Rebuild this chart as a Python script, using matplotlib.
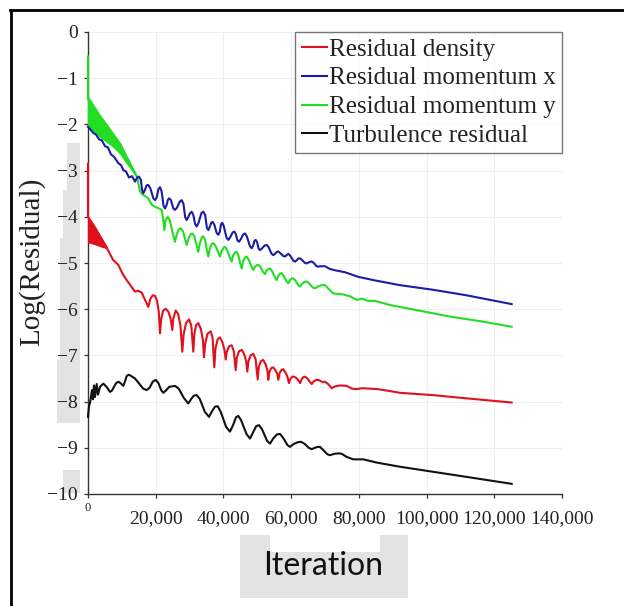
import numpy as np
import matplotlib
matplotlib.use("Agg")
import matplotlib.pyplot as plt
from matplotlib.patches import Polygon
from matplotlib.lines import Line2D

W, H = 624, 606

# ---- data ----
x_ticks = [0, 20000, 40000, 60000, 80000, 100000, 120000, 140000]
x_labels = ["0", "20,000", "40,000", "60,000", "80,000", "100,000", "120,000", "140,000"]
y_ticks = [0, -1, -2, -3, -4, -5, -6, -7, -8, -9, -10]
y_labels = ["0", "\u22121", "\u22122", "\u22123", "\u22124", "\u22125", "\u22126",
            "\u22127", "\u22128", "\u22129", "\u221210"]

series_names = ["Residual density", "Residual momentum x", "Residual momentum y",
                "Turbulence residual"]

# early high-frequency bands (envelopes)
density_band_x = [0, 1480, 2660, 4140, 5610]
density_band_hi = [-4.00, -4.15, -4.29, -4.48, -4.66]
density_band_lo = [-4.55, -4.58, -4.61, -4.65, -4.68]

momy_band_x = [0, 3540, 7380, 9450, 11520, 13290, 14470]
momy_band_hi = [-1.40, -1.80, -2.19, -2.40, -2.70, -2.95, -3.13]
momy_band_lo = [-2.05, -2.27, -2.48, -2.63, -2.85, -3.02, -3.15]

density_x = [0, 0, 5610, 7380, 8950, 10340, 11430, 12700, 13900, 14770, 15860, 16540,
             17810, 18400, 19100, 19790, 20400, 20900, 21270, 21600, 22200, 22950,
             23700, 24400, 24900, 25200, 25900, 26600, 27300, 27850, 28250, 28950,
             29830, 30500, 31100, 31400, 31900, 32580, 33300, 33900, 34260, 34600,
             35300, 36240, 36800, 37300, 37650, 38300, 38990, 39700, 40300, 40670,
             41000, 41700, 42440, 43100, 43620, 43950, 44600, 45400, 46100, 46700,
             47050, 47400, 48100, 48820, 49500, 50120, 50450, 51100, 51780, 52500,
             53000, 53250, 53600, 54200, 54730, 55400, 55900, 56210, 56600, 57200,
             57680, 58400, 58900, 59370, 59800, 60400, 60930, 61700, 62200, 62620,
             63100, 63600, 64090, 64800, 65500, 66070, 66700, 67400, 68020, 68800,
             69500, 70000, 70900, 71980, 73000, 74500, 76410, 78000, 79360, 81000,
             83290, 85500, 88220, 92150, 101900, 111850, 125140]
density_y = [-2.85, -4.00, -4.68, -4.93, -5.04, -5.25, -5.37, -5.50, -5.62, -5.60, -5.64,
             -5.75, -5.95, -5.78, -5.70, -5.71, -5.82, -6.05, -6.52, -6.22, -6.03, -5.99,
             -6.05, -6.20, -6.45, -6.20, -6.03, -6.10, -6.35, -6.92, -6.55, -6.30,
             -6.22, -6.35, -6.92, -6.55, -6.35, -6.30, -6.42, -6.65, -7.04, -6.75,
             -6.53, -6.48, -6.62, -7.26, -6.85, -6.65, -6.61, -6.72, -6.88, -7.09,
             -6.92, -6.80, -6.78, -6.92, -7.32, -7.05, -6.91, -6.88, -6.97, -7.12,
             -7.35, -7.12, -6.99, -6.97, -7.08, -7.52, -7.25, -7.12, -7.10, -7.20,
             -7.33, -7.53, -7.35, -7.27, -7.26, -7.33, -7.40, -7.53, -7.38, -7.31,
             -7.30, -7.38, -7.46, -7.60, -7.50, -7.46, -7.46, -7.50, -7.55, -7.60,
             -7.52, -7.47, -7.46, -7.50, -7.57, -7.62, -7.56, -7.53, -7.53, -7.56,
             -7.58, -7.57, -7.62, -7.71, -7.67, -7.65, -7.66, -7.72, -7.73, -7.71,
             -7.72, -7.73, -7.76, -7.81, -7.86, -7.93, -8.02]

momx_x = [0, 590, 1480, 2360, 3250, 4140, 5020, 5910, 6790, 7680, 8950, 9750, 10430,
          11220, 12110, 13000, 13880,
          14500, 15060, 15600, 16000, 16330, 16750, 17300, 17810, 18400, 19300, 19790,
          20300, 20800, 21270, 21750, 22300, 22740, 23200, 23600, 24010, 24500, 25200,
          25700, 26300, 27100, 27670, 28200, 28700, 29150, 29650, 30150, 30630, 31100,
          31650, 32110, 32600, 33500, 34060, 34600, 35100, 35530, 35950, 36400, 36830,
          37300, 38000, 38490, 38900, 39300, 39670, 40100, 40900, 41440, 41950, 42700,
          43210, 43650, 44150, 44600, 45100, 45850, 46370, 46900, 47850, 48350, 48800,
          49150, 49530, 49950, 50400, 50800, 51300, 52200, 52780, 53300, 54200, 54730,
          55250, 55750, 56210, 56700, 57700, 58190, 58650, 59160, 59700, 60650, 61140,
          61650, 62150, 62620, 63150, 64100, 64590, 65100, 65700, 66160, 66700, 67500,
          68020, 68600, 70000, 71200, 72450, 75910, 79830, 84270, 92150, 101990,
          111850, 125140]
momx_y = [-2.05, -2.10, -2.18, -2.22, -2.32, -2.35, -2.47, -2.50, -2.65, -2.70, -2.84,
          -2.88, -2.99, -3.02, -3.15, -3.12, -3.24,
          -3.15, -3.13, -3.20, -3.42, -3.49, -3.43, -3.32, -3.31, -3.38, -3.60, -3.64,
          -3.58, -3.40, -3.36, -3.45, -3.76, -3.82, -3.75, -3.63, -3.60, -3.64, -3.82,
          -3.85, -3.80, -3.67, -3.64, -3.72, -4.01, -4.07, -4.00, -3.92, -3.89, -3.96,
          -4.16, -4.21, -4.14, -3.92, -3.89, -3.96, -4.23, -4.29, -4.22, -4.13, -4.11,
          -4.17, -4.35, -4.39, -4.33, -4.16, -4.13, -4.20, -4.45, -4.50, -4.45, -4.34,
          -4.32, -4.37, -4.51, -4.54, -4.49, -4.38, -4.36, -4.42, -4.64, -4.68, -4.62,
          -4.52, -4.50, -4.55, -4.69, -4.72, -4.69, -4.62, -4.61, -4.65, -4.80, -4.83,
          -4.80, -4.76, -4.75, -4.78, -4.85, -4.86, -4.83, -4.80, -4.84, -4.95, -4.97,
          -4.94, -4.90, -4.90, -4.93, -5.00, -5.01, -4.99, -4.97, -4.97, -5.00, -5.07,
          -5.08, -5.07, -5.07, -5.12, -5.15, -5.20, -5.30, -5.37, -5.48, -5.58,
          -5.70, -5.89]

momy_x = [0, 0, 14470, 15360, 16100, 16840, 17810, 18810, 19500, 20290, 21000, 21770,
          22200, 22540, 22900, 23540, 24200, 25100, 25700, 26200, 26800, 27470, 28100,
          28700, 29150, 29700, 30300, 30810, 31400, 32100, 32580, 33000, 33600, 34060,
          34600, 35100, 35530, 35950, 36500, 37010, 37600, 38400, 38990, 39500, 40000,
          40460, 41000, 41900, 42440, 42900, 43450, 43920, 44450, 45000, 45400, 45850,
          46400, 46870, 47500, 48300, 48820, 49300, 49800, 50300, 50900, 51700, 52280,
          52800, 53300, 53760, 54400, 55200, 55740, 56200, 56700, 57210, 57800, 58600,
          59160, 59650, 60150, 60640, 61300, 62100, 62620, 63200, 63900, 64590, 65400,
          66400, 67050, 67900, 68900, 70000, 71200, 72450, 75320, 77380, 79450, 80930,
          82700, 84770, 89200, 97080, 106920, 116760, 125140]
momy_y = [-0.53, -1.45, -3.13, -3.45, -3.52, -3.55, -3.60, -3.74, -3.77, -3.80, -3.82,
          -3.85, -4.05, -4.29, -4.08, -4.00, -4.08, -4.38, -4.54, -4.38, -4.27, -4.25,
          -4.32, -4.50, -4.61, -4.47, -4.38, -4.36, -4.42, -4.62, -4.76, -4.58, -4.45,
          -4.42, -4.50, -4.72, -4.86, -4.70, -4.59, -4.57, -4.62, -4.76, -4.86, -4.74,
          -4.67, -4.65, -4.71, -4.88, -4.97, -4.83, -4.77, -4.76, -4.84, -5.02, -5.12,
          -4.96, -4.88, -4.86, -4.93, -5.08, -5.15, -5.08, -5.05, -5.04, -5.08, -5.19,
          -5.24, -5.16, -5.13, -5.12, -5.18, -5.31, -5.37, -5.28, -5.23, -5.22, -5.28,
          -5.39, -5.44, -5.37, -5.34, -5.33, -5.38, -5.48, -5.51, -5.45, -5.41, -5.40,
          -5.45, -5.53, -5.55, -5.51, -5.48, -5.48, -5.57, -5.66, -5.68, -5.72, -5.80,
          -5.77, -5.82, -5.82, -5.91, -6.02, -6.16, -6.27, -6.38]

turb_x = [0, 295, 590, 1180, 1480, 1770, 2070, 2570, 2950, 3540, 4520, 5460, 6500,
          7100, 7680, 8300, 8950, 9600, 10430, 11000, 11400, 11900, 12400, 13880, 15000,
          16300, 17340, 18200, 19100, 20000, 20800, 21600, 22240, 23000, 24000, 25700,
          26800, 28300, 29620, 30500, 31300, 32110, 33000, 34500, 35740, 36700, 37500,
          38310, 39200, 40800, 41940, 42900, 43700, 44390, 45200, 46800, 47850, 48800,
          49700, 50510, 51400, 52900, 53760, 54700, 55800, 56710, 57600, 58900, 59660,
          60700, 61900, 62910, 63900, 65200, 66070, 67000, 67800, 68520, 69500, 70700,
          71480, 72800, 74000, 74930, 76500, 78360, 81310, 85270, 92150, 101990,
          111850, 125140]
turb_y = [-8.33, -8.10, -8.03, -7.75, -7.95, -7.65, -7.90, -7.62, -7.85, -7.68, -7.61,
          -7.68, -7.79, -7.76, -7.68, -7.60, -7.57, -7.60, -7.66, -7.55, -7.45, -7.42,
          -7.43, -7.50, -7.60, -7.72, -7.75, -7.70, -7.57, -7.53, -7.60, -7.75, -7.81,
          -7.76, -7.68, -7.66, -7.72, -7.92, -8.04, -7.94, -7.87, -7.86, -7.94, -8.22,
          -8.33, -8.20, -8.11, -8.10, -8.22, -8.55, -8.65, -8.50, -8.34, -8.31, -8.40,
          -8.70, -8.80, -8.66, -8.53, -8.51, -8.60, -8.85, -8.91, -8.80, -8.71, -8.70,
          -8.78, -8.94, -8.98, -8.92, -8.88, -8.87, -8.91, -9.00, -9.03, -9.00, -8.98,
          -8.98, -9.05, -9.14, -9.16, -9.13, -9.12, -9.13, -9.20, -9.25, -9.25, -9.32,
          -9.41, -9.52, -9.63, -9.78]

colors = ["#e0101c", "#1c1ca6", "#22dd22", "#111111"]

serif = "Liberation Serif"


def fx(px):
    return px / W


def fy(py):
    return 1 - py / H


fig = plt.figure(figsize=(W / 100, H / 100), dpi=100)
fig.patch.set_facecolor("white")

# grey backdrop patches behind the axis titles
ylab_bg = [(67, 143), (80, 143), (80, 423), (57, 423), (57, 360), (60, 360),
           (60, 238), (63, 238), (63, 190), (67, 190)]
ylab_bg2 = [(63, 470), (80, 470), (80, 493), (63, 493)]
xlab_bg = [(240, 535), (270, 535), (270, 552), (380, 552), (380, 535), (408, 535),
           (408, 598), (240, 598)]
for pts in (ylab_bg, ylab_bg2, xlab_bg):
    fig.patches.append(Polygon([(fx(a), fy(b)) for a, b in pts], closed=True,
                               transform=fig.transFigure, facecolor="#e3e3e3",
                               edgecolor="none", zorder=-5))

# frame around the picture (left and top edges visible)
fig.add_artist(Line2D([fx(11.3), fx(11.3)], [fy(9.7), 0], color="black", lw=2.0,
                      transform=fig.transFigure))
fig.add_artist(Line2D([fx(10.3), 1], [fy(9.7), fy(9.7)], color="black", lw=2.0,
                      transform=fig.transFigure))

ax = fig.add_axes([fx(88), fy(494), (562 - 88) / W, (494 - 32) / H])
ax.set_xlim(0, 140000)
ax.set_ylim(-10, 0)

ax.fill_between(momy_band_x, momy_band_lo, momy_band_hi, color=colors[2], lw=0.8,
                zorder=3, clip_on=False)
ax.fill_between(density_band_x, density_band_lo, density_band_hi, color=colors[0],
                lw=0.8, zorder=3, clip_on=False)

kw = dict(lw=1.5, zorder=3, clip_on=False, solid_joinstyle="round")
l_dens, = ax.plot(density_x, density_y, color=colors[0], **kw)
l_momy, = ax.plot(momy_x, momy_y, color=colors[2], **kw)
l_momx, = ax.plot(momx_x, momx_y, color=colors[1], **kw)
l_turb, = ax.plot(turb_x, turb_y, color=colors[3], **kw)

ax.set_xticks(x_ticks)
ax.set_xticklabels([""] + x_labels[1:])
ax.set_yticks(y_ticks)
ax.set_yticklabels(y_labels)
ax.grid(True, color="#eeeeee", lw=0.8)
ax.set_axisbelow(True)
for s in ("top", "right"):
    ax.spines[s].set_visible(False)
for s in ("left", "bottom"):
    ax.spines[s].set_color("#333333")
    ax.spines[s].set_linewidth(1.0)
ax.tick_params(axis="both", direction="out", length=3, width=0.9, color="#333333",
               labelcolor="#222222")
ax.tick_params(axis="x", pad=8.5)
ax.tick_params(axis="y", pad=4.5)
for t in ax.get_xticklabels() + ax.get_yticklabels():
    t.set_fontfamily(serif)
    t.set_fontsize(14)
# the small "0" under the origin
ax.annotate(x_labels[0], xy=(x_ticks[0], -10), xytext=(0, -6), textcoords="offset points",
            ha="center", va="top", fontfamily=serif, fontsize=9, color="#222222",
            annotation_clip=False)

leg = ax.legend([l_dens, l_momx, l_momy, l_turb], series_names, loc="upper right",
                bbox_to_anchor=(1.0, 1.0), borderaxespad=0, frameon=True,
                fancybox=False, edgecolor="#555555", handlelength=1.0,
                handletextpad=0.1, labelspacing=0.25, borderpad=0.25,
                prop={"family": serif, "size": 18})
leg.get_frame().set_linewidth(1.0)
for t in leg.get_texts():
    t.set_color("#222222")

fig.text(fx(32), fy(262), "Log(Residual)", rotation=90, ha="center", va="center",
         fontfamily=serif, fontsize=21, color="#222222")
fig.text(fx(323), fy(566), "Iteration", ha="center", va="center", fontfamily="Lato",
         fontsize=23, color="#111111")

fig.savefig("out.png", dpi=100)
